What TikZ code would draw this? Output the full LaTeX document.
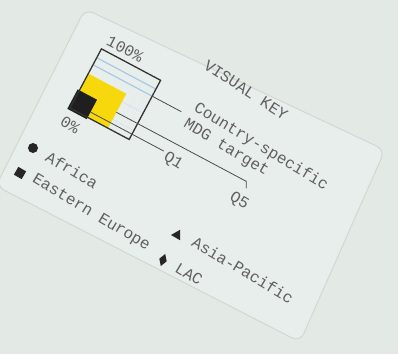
\documentclass[tikz,border=0pt]{standalone}
\usepackage{fontspec}
\setmonofont{Liberation Mono}
\usepackage{xcolor}
\usetikzlibrary{shapes.geometric,positioning}

\definecolor{paper}{HTML}{E3EAE6}
\definecolor{cardbg}{HTML}{E8EEEB}
\definecolor{cardedge}{HTML}{D0D8D4}
\definecolor{keyyellow}{HTML}{F6D80C}
\definecolor{gridblue}{HTML}{A9C7E6}
\definecolor{ink}{HTML}{606060}

\begin{document}
\begin{tikzpicture}[
    x=1pt, y=-1pt,
    keytext/.style={font=\ttfamily\fontsize{16}{16}\selectfont, text=ink, inner sep=0pt, rotate=-31},
    leader/.style={draw=black!70, line width=0.8pt},
    symb/.style={fill=black!85, draw=none, inner sep=0pt}
]
    \useasboundingbox (0,0) rectangle (398,354);
    \fill[paper] (0,0) rectangle (398,354);

    % the card
    \draw[cardedge, fill=cardbg, line width=1pt, rounded corners=9pt]
        (85,9) -- (385,150) -- (300,342) -- (-4,186) -- cycle;

    % box: 0% to 100%
    \begin{scope}[shift={(70,108)}, rotate=-28, y=1pt]
        \draw[gridblue, line width=1.2pt] (0,57) -- (67,57);
        \draw[gridblue, line width=1.2pt] (0,49) -- (67,49);
        \draw[gridblue!70, dotted] (52,0) -- (52,60);
        \draw[gridblue!70, dotted] (60,0) -- (60,60);
        \draw[gridblue!60] (0,30) -- (67,30);
        \draw[gridblue!60] (0,10) -- (67,10);
        \fill[keyyellow] (0,0) rectangle (43,39);
        \fill[black!88] (-2,-2) rectangle (20,20);
        \draw[black!80, line width=1.3pt] (0,0) rectangle (67,67);
        \coordinate (tgtstart) at (67,49);
        \coordinate (tgtend) at (100,49);
        \coordinate (qonestart) at (20,6);
        \coordinate (qoneend) at (103,6);
        \coordinate (qfivestart) at (43,18);
        \coordinate (qfiveend) at (190,18);
    \end{scope}
    \coordinate (qfivetick) at ([yshift=-7pt]qfiveend);

    \draw[leader] (tgtstart) -- (tgtend);
    \draw[leader] (qonestart) -- (qoneend);
    \draw[leader] (qfivestart) -- (qfiveend) -- (qfivetick);

    % texts
    \node[keytext, rotate=-2] (visual) at (246,90) {VISUAL KEY};
    \node[keytext] (country) at (261,147) {Country-specific};
    \node[keytext] (mdg) at (226,148) {MDG target};
    \node[keytext, rotate=4] (full) at (125,49) {100\%};
    \node[keytext] (zero) at (70,125) {0\%};
    \node[keytext] (qone) at (173,161) {Q1};
    \node[keytext] (qfive) at (239,201) {Q5};

    % regions
    \node[symb, circle, minimum size=10pt] (africadot) at (33,148) {};
    \node[keytext] (africa) at (72,170) {Africa};
    \node[symb, rectangle, minimum size=9pt, rotate=-30] (eedot) at (20,173) {};
    \node[keytext] (eastern) at (91,213) {Eastern Europe};
    \node[symb, regular polygon, regular polygon sides=3, minimum size=12pt, rotate=-30] (apdot) at (177,235) {};
    \node[keytext] (asia) at (243,270) {Asia-Pacific};
    \node[symb, diamond, minimum width=8pt, minimum height=13pt, rotate=-20] (lacdot) at (163,260) {};
    \node[keytext] (lac) at (189,274) {LAC};
\end{tikzpicture}
\end{document}
